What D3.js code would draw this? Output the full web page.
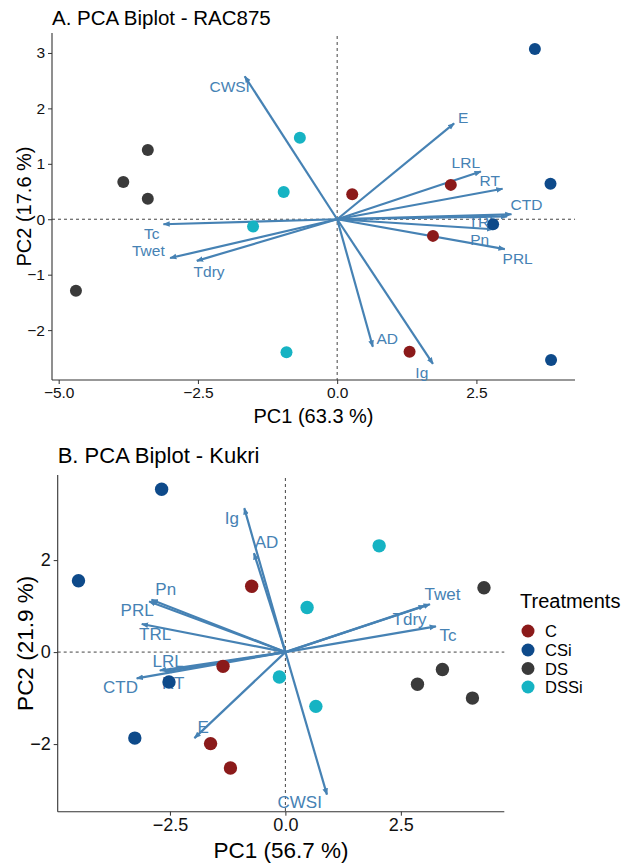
<!DOCTYPE html>
<html>
<head>
<meta charset="utf-8">
<script src="https://cdn.jsdelivr.net/npm/d3@7"></script>
<style>
  body { margin: 0; background: #fff; }
  svg { display: block; font-family: "Liberation Sans", Arial, sans-serif; }
</style>
</head>
<body>
<svg id="chart" width="644" height="863"></svg>
<script>
// ---------- DATA ----------
const treatments = ["C", "CSi", "DS", "DSSi"];
const treatmentColors = ["#8B1A1A", "#0E4A8A", "#3A3A3A", "#16B3C3"];

// Panel A: RAC875
const racTitle = "A. PCA Biplot - RAC875";
const racXLabel = "PC1 (63.3 %)";
const racYLabel = "PC2 (17.6 %)";
const racXTicks = [-5.0, -2.5, 0.0, 2.5];
const racYTicks = [-2, -1, 0, 1, 2, 3];
const racPointGroup = ["DS","DS","DS","DS","DSSi","DSSi","DSSi","DSSi","C","C","C","C","CSi","CSi","CSi","CSi"];
const racPC1 = [-3.40, -3.84, -3.40, -4.69, -0.67, -0.96, -1.51, -0.91, 0.27, 2.04, 1.72, 1.30, 3.55, 3.83, 2.80, 3.84];
const racPC2 = [1.25, 0.67, 0.37, -1.29, 1.47, 0.49, -0.13, -2.40, 0.45, 0.62, -0.30, -2.39, 3.07, 0.64, -0.09, -2.54];
const racVars = ["CWSI","E","LRL","RT","CTD","TRL","Pn","PRL","Tc","Twet","Tdry","AD","Ig"];
const racVarPC1 = [-1.66, 2.10, 2.58, 2.97, 3.13, 3.05, 2.80, 3.01, -3.12, -3.00, -2.52, 0.64, 1.72];
const racVarPC2 = [2.58, 1.73, 0.86, 0.55, 0.09, 0.05, -0.18, -0.54, -0.09, -0.70, -0.75, -2.30, -2.61];
const racLabPC1 = [-1.93, 2.26, 2.31, 2.74, 3.40, 2.62, 2.56, 3.24, -3.33, -3.39, -2.30, 0.90, 1.52];
const racLabPC2 = [2.40, 1.83, 1.03, 0.70, 0.26, -0.04, -0.37, -0.70, -0.25, -0.57, -0.94, -2.16, -2.76];

// Panel B: Kukri
const kukTitle = "B. PCA Biplot - Kukri";
const kukXLabel = "PC1 (56.7 %)";
const kukYLabel = "PC2 (21.9 %)";
const kukXTicks = [-2.5, 0.0, 2.5];
const kukYTicks = [-2, 0, 2];
const kukPointGroup = ["CSi","CSi","CSi","CSi","C","C","C","C","DSSi","DSSi","DSSi","DSSi","DS","DS","DS","DS"];
const kukPC1 = [-2.68, -4.48, -2.52, -3.26, -0.73, -1.35, -1.62, -1.19, 2.03, 0.47, -0.13, 0.66, 4.30, 3.40, 2.86, 4.05];
const kukPC2 = [3.54, 1.55, -0.65, -1.87, 1.43, -0.31, -1.99, -2.52, 2.31, 0.97, -0.54, -1.18, 1.40, -0.38, -0.70, -1.00];
const kukVars = ["Ig","AD","Pn","PRL","TRL","LRL","RT","CTD","E","CWSI","Twet","Tdry","Tc"];
const kukVarPC1 = [-0.89, -0.68, -2.90, -2.95, -3.11, -2.72, -2.60, -3.22, -1.97, 0.90, 3.13, 3.02, 3.26];
const kukVarPC2 = [3.13, 2.15, 1.14, 1.10, 0.61, -0.40, -0.42, -0.57, -1.87, -3.10, 1.04, 1.01, 0.56];
const kukLabPC1 = [-1.16, -0.41, -2.59, -3.21, -2.82, -2.54, -2.43, -3.57, -1.78, 0.31, 3.40, 2.69, 3.52];
const kukLabPC2 = [2.91, 2.39, 1.35, 0.90, 0.38, -0.20, -0.69, -0.78, -1.65, -3.27, 1.25, 0.70, 0.35];

// ---------- DRAW ----------
const svg = d3.select("#chart");
const color = d3.scaleOrdinal().domain(treatments).range(treatmentColors);
const arrowColor = "#4682B4";

svg.append("defs").append("marker")
  .attr("id", "ah").attr("viewBox", "0 0 10 10")
  .attr("refX", 9).attr("refY", 5)
  .attr("markerWidth", 3.2).attr("markerHeight", 3.2)
  .attr("orient", "auto")
  .append("path").attr("d", "M0,1 L10,5 L0,9 Z").attr("fill", arrowColor);

function panel(cfg) {
  const x = d3.scaleLinear().domain(cfg.xDomain).range([cfg.left, cfg.right]);
  const y = d3.scaleLinear().domain(cfg.yDomain).range([cfg.bottom, cfg.top]);
  const g = svg.append("g");

  // title
  g.append("text").attr("x", cfg.left + cfg.titleDx).attr("y", cfg.titleY)
    .attr("font-size", cfg.titleSize).attr("fill", "#000").text(cfg.title);

  // reference dashed lines
  g.append("line").attr("x1", cfg.left).attr("x2", cfg.right)
    .attr("y1", y(0)).attr("y2", y(0))
    .attr("stroke", "#444").attr("stroke-dasharray", "3,3").attr("stroke-width", 1);
  g.append("line").attr("x1", x(0)).attr("x2", x(0))
    .attr("y1", cfg.top + 3).attr("y2", cfg.bottom)
    .attr("stroke", "#444").attr("stroke-dasharray", "3,3").attr("stroke-width", 1);

  // axes
  const xAxis = g.append("g").attr("transform", `translate(0,${cfg.bottom})`)
    .call(d3.axisBottom(x).tickValues(cfg.xTicks).tickFormat(d3.format(".1f")).tickSize(4).tickSizeOuter(0));
  const yAxis = g.append("g").attr("transform", `translate(${cfg.left},0)`)
    .call(d3.axisLeft(y).tickValues(cfg.yTicks).tickFormat(d3.format("d")).tickSize(4).tickSizeOuter(0));
  [xAxis, yAxis].forEach(a => {
    a.select(".domain").attr("stroke", "#333").attr("stroke-width", 1.1);
    a.selectAll(".tick line").attr("stroke", "#333");
    a.selectAll(".tick text").attr("fill", "#111").attr("font-size", cfg.tickSize)
      .attr("font-family", "'Liberation Sans', Arial, sans-serif");
  });
  xAxis.select(".domain").attr("d", `M${cfg.left},0H${cfg.right}`);
  yAxis.select(".domain").attr("d", `M0,${cfg.top}V${cfg.bottom}`);

  // axis titles
  g.append("text").attr("x", (cfg.left + cfg.right) / 2).attr("y", cfg.xTitleY)
    .attr("text-anchor", "middle").attr("font-size", cfg.axisTitleSize).text(cfg.xLabel);
  g.append("text").attr("transform", `translate(${cfg.yTitleX},${(cfg.top + cfg.bottom) / 2}) rotate(-90)`)
    .attr("text-anchor", "middle").attr("font-size", cfg.axisTitleSize).text(cfg.yLabel);

  // arrows
  const vars = cfg.vars.map((v, i) => ({ v, x: cfg.vx[i], y: cfg.vy[i], lx: cfg.lx[i], ly: cfg.ly[i] }));
  g.selectAll(".arrow").data(vars).join("line")
    .attr("x1", x(0)).attr("y1", y(0))
    .attr("x2", d => x(d.x)).attr("y2", d => y(d.y))
    .attr("stroke", arrowColor).attr("stroke-width", 2.2)
    .attr("marker-end", "url(#ah)");
  g.selectAll(".vlab").data(vars).join("text")
    .attr("x", d => x(d.lx)).attr("y", d => y(d.ly))
    .attr("text-anchor", "middle").attr("dominant-baseline", "central")
    .attr("fill", arrowColor).attr("font-size", cfg.varSize).text(d => d.v);

  // points
  const pts = cfg.px.map((v, i) => ({ x: v, y: cfg.py[i], grp: cfg.pg[i] }));
  g.selectAll(".pt").data(pts).join("circle")
    .attr("cx", d => x(d.x)).attr("cy", d => y(d.y)).attr("r", cfg.r)
    .attr("fill", d => color(d.grp));
}

panel({
  title: racTitle, xLabel: racXLabel, yLabel: racYLabel,
  xDomain: [-5.12, 4.27], yDomain: [-2.9, 3.36],
  left: 52, right: 575, top: 33, bottom: 380,
  xTicks: racXTicks, yTicks: racYTicks,
  titleDx: 0, titleY: 25, titleSize: 20.5,
  xTitleY: 423, yTitleX: 31, axisTitleSize: 20, tickSize: 15.5, varSize: 15.5, r: 6,
  vars: racVars, vx: racVarPC1, vy: racVarPC2, lx: racLabPC1, ly: racLabPC2,
  px: racPC1, py: racPC2, pg: racPointGroup
});

panel({
  title: kukTitle, xLabel: kukXLabel, yLabel: kukYLabel,
  xDomain: [-4.93, 4.74], yDomain: [-3.47, 3.85],
  left: 57.7, right: 504.3, top: 475, bottom: 811.7,
  xTicks: kukXTicks, yTicks: kukYTicks,
  titleDx: 0, titleY: 463, titleSize: 22,
  xTitleY: 858, yTitleX: 33, axisTitleSize: 22.5, tickSize: 18, varSize: 17, r: 6.7,
  vars: kukVars, vx: kukVarPC1, vy: kukVarPC2, lx: kukLabPC1, ly: kukLabPC2,
  px: kukPC1, py: kukPC2, pg: kukPointGroup
});

// legend
const leg = svg.append("g");
leg.append("text").attr("x", 520).attr("y", 608).attr("font-size", 20).text("Treatments");
const legY = [631, 650, 668.5, 687];
leg.selectAll(".li").data(treatments).join("circle")
  .attr("cx", 528).attr("cy", (d, i) => legY[i]).attr("r", 6.5).attr("fill", d => color(d));
leg.selectAll(".lt").data(treatments).join("text")
  .attr("x", 545).attr("y", (d, i) => legY[i]).attr("dominant-baseline", "central")
  .attr("font-size", 16.5).text(d => d);
</script>
</body>
</html>
